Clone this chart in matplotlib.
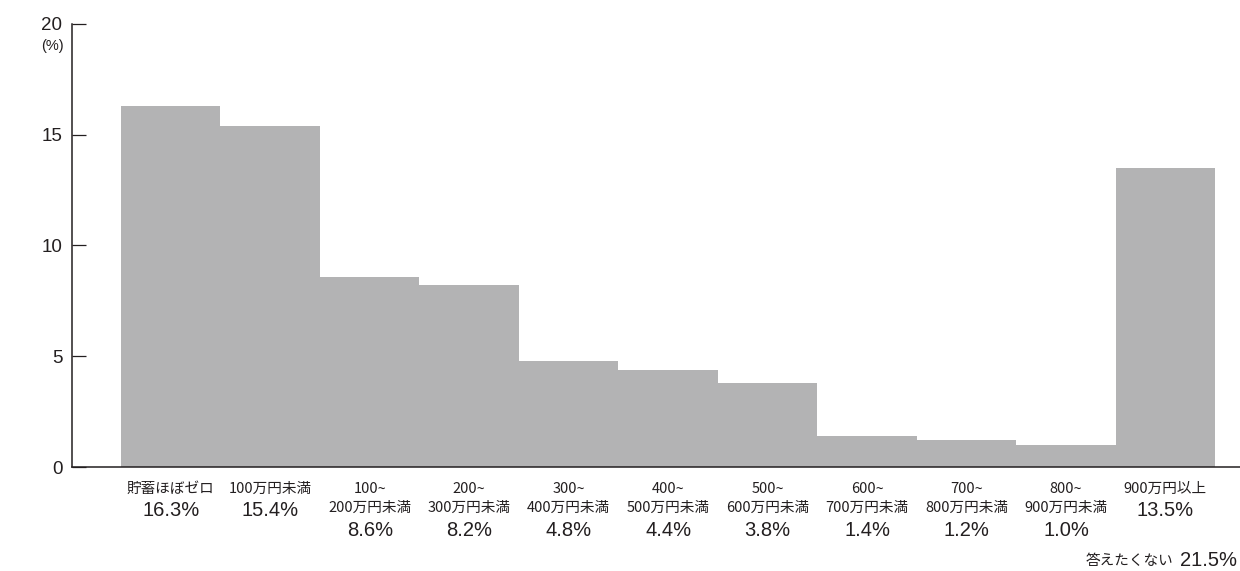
import matplotlib
matplotlib.use("Agg")
from matplotlib import pyplot as plt

plt.rcParams['font.family'] = ['Liberation Sans', 'Noto Sans CJK JP']
cjk = ['Noto Sans CJK JP', 'Liberation Sans']

names = ["貯蓄ほぼゼロ", "100万円未満", "100~\n200万円未満", "200~\n300万円未満",
         "300~\n400万円未満", "400~\n500万円未満", "500~\n600万円未満",
         "600~\n700万円未満", "700~\n800万円未満", "800~\n900万円未満", "900万円以上"]
values = [16.3, 15.4, 8.6, 8.2, 4.8, 4.4, 3.8, 1.4, 1.2, 1.0, 13.5]
no_answer_label = "答えたくない"
no_answer_value = 21.5
yticks = [0, 5, 10, 15, 20]

bar_color = "#b3b3b4"
text_color = "#231f20"

fig = plt.figure(figsize=(12.4, 5.71), dpi=100)
ax = fig.add_axes([72 / 1240, 1 - 467 / 571, 1 - 72 / 1240, (467 - 24) / 571])

x = list(range(len(values)))
ax.bar(x, values, width=1.0, color=bar_color, edgecolor="none")

ax.set_xlim(-0.993, 10.75)
ax.set_ylim(0, 20)
ax.set_xticks([])
ax.set_yticks(yticks)
ax.tick_params(axis="y", direction="in", length=10, width=0.9, color=text_color,
               pad=7, labelsize=13.5, labelcolor=text_color)
for s in ("top", "right"):
    ax.spines[s].set_visible(False)
for s in ("left", "bottom"):
    ax.spines[s].set_linewidth(1.1)
    ax.spines[s].set_color(text_color)

fig.text(52 / 1240, 1 - 46 / 571, "(%)", ha="center", va="center",
         fontsize=10.5, color=text_color)

# category labels and percentages under each bar
for i, (n, v) in enumerate(zip(names, values)):
    lines = n.split("\n")
    off = 22
    for ln in lines:
        ax.annotate(ln, xy=(i, 0), xytext=(0, -off), textcoords="offset pixels",
                    ha="center", va="center", fontsize=10.5, color=text_color,
                    family=cjk)
        off += 19
    off += 3
    ax.annotate(f"{v:.1f}%", xy=(i, 0), xytext=(0, -off), textcoords="offset pixels",
                ha="center", va="center", fontsize=14.5, color=text_color)

fig.text(1237 / 1240, 1 - 561 / 571, f"{no_answer_value:.1f}%", ha="right", va="center",
         fontsize=14.5, color=text_color)
fig.text(1173 / 1240, 1 - 561 / 571, no_answer_label, ha="right", va="center",
         fontsize=10.5, color=text_color, family=cjk)

fig.savefig("out.png", dpi=100)
